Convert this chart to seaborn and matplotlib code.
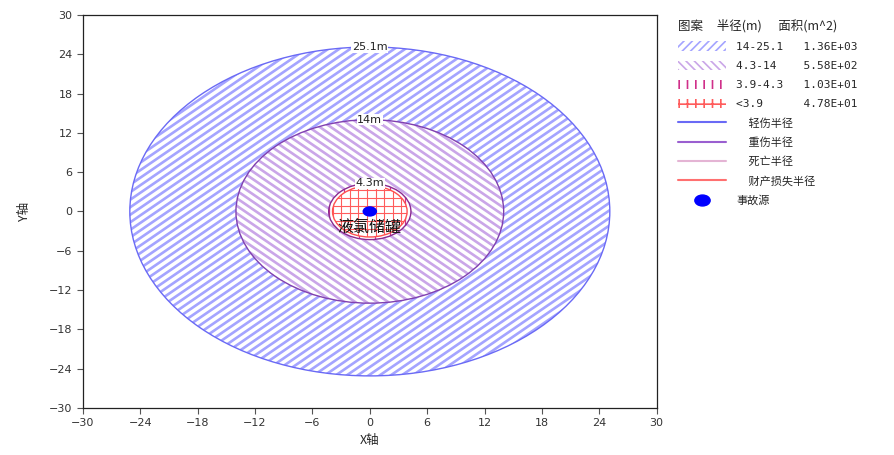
import numpy as np
import matplotlib
matplotlib.use('Agg')
import matplotlib.pyplot as plt
import seaborn as sns
from matplotlib.patches import Ellipse, Patch
from matplotlib.lines import Line2D
from matplotlib.collections import LineCollection
from matplotlib.path import Path

# data
radii = [25.1, 14.0, 4.3, 3.9]
radius_labels = ['25.1m', '14m', '4.3m']
zone_labels = ['14-25.1', '4.3-14', '3.9-4.3', '<3.9']
zone_areas = ['1.36E+03', '5.58E+02', '1.03E+01', '4.78E+01']
line_labels = ['轻伤半径', '重伤半径', '死亡半径', '财产损失半径']
source_x = [0.0]
source_y = [0.0]
tick_values = np.arange(-30, 31, 6)

# styles
hatch_colors = ['#a4a4ff', '#caa6e8', '#d0308a', '#ff5c5c']
legend_hatches = ['////', '\\\\\\\\', '||', '++']
edge_colors = ['#6a6af5', '#8040b0', '#8a2a90', '#ff5050']
line_colors = ['#6a6af5', '#9a5fd0', '#e4b4d4', '#ff7070']


def hatch_segments(kind, r):
    """line segments (data coords) that fill a circle of radius r"""
    segs = []
    if kind == '/':
        for c in np.arange(-2 * r, 2 * r, 1.15):
            segs.append([(-r - 1, -r - 1 + c), (r + 1, r + 1 + c)])
    elif kind == '\\':
        for c in np.arange(-2 * r, 2 * r, 1.15):
            segs.append([(-r - 1, r + 1 + c), (r + 1, -r - 1 + c)])
    elif kind == '|':
        for x in np.arange(-r, r + 0.1, 1.6):
            segs.append([(x, -r - 1), (x, r + 1)])
    else:
        for x in np.arange(-r, r + 0.1, 0.9):
            segs.append([(x, -r - 1), (x, r + 1)])
        for y in np.arange(-r, r + 0.1, 1.2):
            segs.append([(-r - 1, y), (r + 1, y)])
    return segs


sns.set_theme(style='ticks')
plt.rcParams['font.family'] = ['Noto Sans CJK SC', 'DejaVu Sans']
plt.rcParams['hatch.linewidth'] = 1.2
plt.rcParams['axes.unicode_minus'] = True

fig = plt.figure(figsize=(8.95, 4.55), dpi=100)
ax = fig.add_axes([0.0927, 0.1033, 0.641, 0.864])

# hatched zones, drawn from outside in
kinds = ['/', '\\', '|', '+']
widths = [1.9, 1.9, 0.9, 0.8]
for i, (r, hc, k, lw) in enumerate(zip(radii, hatch_colors, kinds, widths)):
    zone = Ellipse((0, 0), 2 * r, 2 * r, facecolor='white', edgecolor='none',
                   zorder=1 + i)
    ax.add_patch(zone)
    lc = LineCollection(hatch_segments(k, r), colors=hc, linewidths=lw,
                        zorder=1.5 + i)
    ax.add_collection(lc)
    lc.set_clip_path(zone)
# outlines
for r, ec in zip(radii, edge_colors):
    ax.add_patch(Ellipse((0, 0), 2 * r, 2 * r, facecolor='none',
                         edgecolor=ec, linewidth=1.0, zorder=8))

for r, lab in zip(radii[:3], radius_labels):
    ax.text(0, r, lab, ha='center', va='center', fontsize=8,
            family='DejaVu Sans', color='#222222', zorder=9,
            bbox=dict(facecolor='white', edgecolor='none', pad=0.5))

ax.text(0, -2.4, '液氯储罐', ha='center', va='center', fontsize=11.5,
        color='#111111', zorder=10)

# accident source, elliptic marker
circ = Path.unit_circle()
ell_marker = Path(circ.vertices * np.array([1.4, 1.0]), circ.codes)
sns.scatterplot(x=source_x, y=source_y, marker=ell_marker, s=110,
                color='#0000ff', edgecolor='none', ax=ax, zorder=11, legend=False)

ax.set_xlim(-30, 30)
ax.set_ylim(-30, 30)
ax.set_xticks(tick_values)
ax.set_yticks(tick_values)
ax.tick_params(labelsize=8, length=4, width=0.8, color='#555555', labelcolor='#333333')
for lab in ax.get_xticklabels() + ax.get_yticklabels():
    lab.set_family('DejaVu Sans')
for sp in ax.spines.values():
    sp.set_color('#222222')
    sp.set_linewidth(0.9)
    sp.set_zorder(12)
ax.set_xlabel('X轴', fontsize=9, labelpad=4)
ax.set_ylabel('Y轴', fontsize=9, labelpad=13)

# legend
handles = []
labels = []
for hc, h, zl, za in zip(hatch_colors, legend_hatches, zone_labels, zone_areas):
    handles.append(Patch(facecolor='white', edgecolor=hc, hatch=h, linewidth=0))
    labels.append(f'{zl:<9s} {za}')
for lc_, ll in zip(line_colors, line_labels):
    handles.append(Line2D([0], [0], color=lc_, linewidth=1.5))
    labels.append('     ' + ll)
handles.append(Line2D([0], [0], linestyle='none', marker=ell_marker,
                      markersize=11, color='#0000ff'))
labels.append('事故源')

leg = ax.legend(handles, labels, loc='upper left', bbox_to_anchor=(1.03, 1.0),
                frameon=False, fontsize=8, handlelength=4.3, handleheight=0.9,
                handletextpad=0.9, labelspacing=0.78, borderaxespad=0,
                title='图案     半径(m)      面积(m^2)', title_fontsize=9,
                alignment='left')
for t in leg.get_texts()[:4]:
    t.set_family('DejaVu Sans Mono')

fig.savefig('out.png', dpi=100, facecolor='white')
